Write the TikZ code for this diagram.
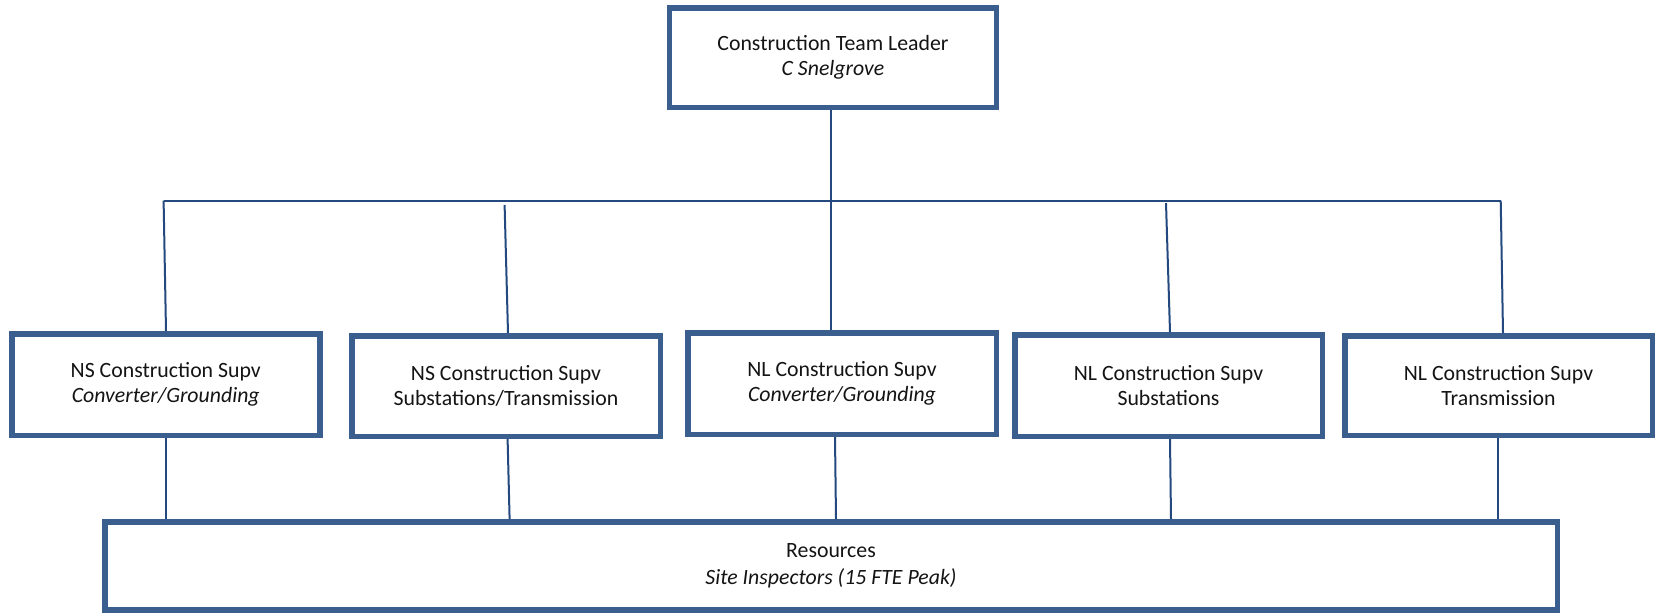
\documentclass[tikz,border=0pt]{standalone}
\usepackage{fontspec}
\setmainfont{Carlito}
\usetikzlibrary{calc}
\definecolor{boxc}{HTML}{3A5F8E}
\definecolor{linec}{HTML}{24497F}
\definecolor{txt}{HTML}{141414}
\begin{document}
\begin{tikzpicture}[x=1pt,y=-1pt,
  box/.style={draw=boxc, line width=5.5pt, fill=white, align=center, inner sep=0pt,
    text=txt, font={\fontsize{21.8}{25}\selectfont}},
  conn/.style={draw=linec, line width=2pt}]
\useasboundingbox (0,0) rectangle (1657,613);
\fill[white] (0,0) rectangle (1657,613);

\node[box, minimum width=326.8pt, minimum height=99.2pt] (lead) at (833,57.7)
  {Construction Team Leader\\\textit{C Snelgrove}};
\node[box, minimum width=308pt, minimum height=101.5pt] (b1) at (165.75,384.5)
  {NS Construction Supv\\\textit{Converter/Grounding}};
\node[box, minimum width=308.5pt, minimum height=100.5pt] (b2) at (506,386)
  {NS Construction Supv\\Substations/Transmission};
\node[box, minimum width=308.5pt, minimum height=101.5pt] (b3) at (842,383.5)
  {NL Construction Supv\\\textit{Converter/Grounding}};
\node[box, minimum width=307.5pt, minimum height=101.5pt] (b4) at (1168.5,385.5)
  {NL Construction Supv\\Substations};
\node[box, minimum width=307.5pt, minimum height=99.5pt] (b5) at (1498.5,385.5)
  {NL Construction Supv\\Transmission};
\node[box, minimum width=1452.5pt, minimum height=88.2pt,
  font={\fontsize{21.8}{27}\selectfont}] (res) at (831,565.9)
  {Resources\\\textit{Site Inspectors (15 FTE Peak)}};

% bus junctions
\coordinate (j1) at (163.6,200.7);
\coordinate (j2) at (504.6,205);
\coordinate (j3) at (831,200.7);
\coordinate (j4) at (1166,203);
\coordinate (j5) at (1500.7,200.7);
% bottom connector x positions
\coordinate (k1) at (165.7,0);
\coordinate (k2) at (507.6,0);
\coordinate (k3) at (835,0);
\coordinate (k4) at (1170,0);
\coordinate (k5) at (1498,0);

\draw[conn] (j1) -- (j5);
\draw[conn] (lead.south -| j3) -- (b3.north -| j3);
\draw[conn] (j1) -- ($(b1.north -| j1)+(2.4,0)$);
\draw[conn] (j2) -- ($(b2.north -| j2)+(3.4,0)$);
\draw[conn] (j4) -- ($(b4.north -| j4)+(4,0)$);
\draw[conn] (j5) -- ($(b5.north -| j5)+(2.3,0)$);

\draw[conn] (b1.south -| k1) -- (res.north -| k1);
\draw[conn] (b2.south -| k2) -- ($(res.north -| k2)+(2,0)$);
\draw[conn] (b3.south -| k3) -- ($(res.north -| k3)+(1,0)$);
\draw[conn] (b4.south -| k4) -- ($(res.north -| k4)+(1,0)$);
\draw[conn] (b5.south -| k5) -- (res.north -| k5);
\end{tikzpicture}
\end{document}
